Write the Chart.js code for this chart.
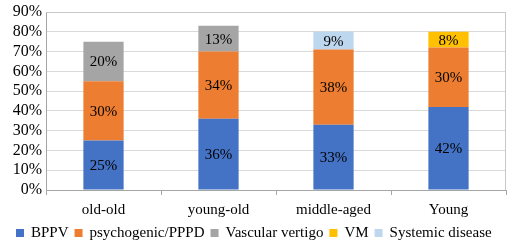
<!DOCTYPE html>
<html>
<head>
<meta charset="utf-8">
<script src="https://cdn.jsdelivr.net/npm/chart.js@4"></script>
<style>
  html, body { margin: 0; padding: 0; background: #fff; }
  #box { width: 510px; height: 245px; }
</style>
</head>
<body>
<div id="box"><canvas id="grafico"></canvas></div>
<script>
const categorias = ["old-old", "young-old", "middle-aged", "Young"];
const bppv = [25, 36, 33, 42];
const psicogenico = [30, 34, 38, 30];
const vascular = [20, 13, null, null];
const vm = [null, null, null, 8];
const sistemica = [null, null, 9, null];

const fonte = "'Liberation Serif', 'Times New Roman', serif";

// escreve os valores no meio de cada segmento
const rotulos = {
    id: "rotulos",
    afterDatasetsDraw(chart) {
        const ctx = chart.ctx;
        ctx.save();
        ctx.font = "15px " + fonte;
        ctx.fillStyle = "#000";
        ctx.textAlign = "center";
        ctx.textBaseline = "middle";
        chart.data.datasets.forEach((ds, i) => {
            chart.getDatasetMeta(i).data.forEach((bar, j) => {
                const v = ds.data[j];
                if (v == null) return;
                const meio = (bar.y + bar.base) / 2;
                ctx.fillText(v + "%", bar.x, meio + 1);
            });
        });
        ctx.restore();
    }
};

// moldura da área do gráfico + legenda desenhada à mão
const moldura = {
    id: "moldura",
    afterDraw(chart) {
        const { ctx, chartArea: a } = chart;
        ctx.save();
        ctx.strokeStyle = "#c8c8c8";
        ctx.lineWidth = 1;
        ctx.beginPath();
        ctx.moveTo(a.left, a.top + 0.5);
        ctx.lineTo(a.right - 0.5, a.top + 0.5);
        ctx.lineTo(a.right - 0.5, a.bottom);
        ctx.stroke();

        // legenda
        ctx.font = "15px " + fonte;
        ctx.textBaseline = "middle";
        ctx.textAlign = "left";
        const caixa = 8, gap1 = 7, gap2 = 6;
        const itens = chart.data.datasets.map(ds => ({ texto: ds.label, cor: ds.backgroundColor }));
        let total = 0;
        itens.forEach((it, k) => {
            it.w = ctx.measureText(it.texto).width;
            total += caixa + gap1 + it.w + (k < itens.length - 1 ? gap2 : 0);
        });
        let x = Math.round(254 - total / 2);
        const yc = 233;
        itens.forEach(it => {
            ctx.fillStyle = it.cor;
            ctx.fillRect(x, yc - 4, caixa, caixa);
            x += caixa + gap1;
            ctx.fillStyle = "#000";
            ctx.fillText(it.texto, x, yc);
            x += it.w + gap2;
        });
        ctx.restore();
    }
};

const base = { barPercentage: 0.7, categoryPercentage: 0.5, borderWidth: 0 };

new Chart(document.getElementById("grafico"), {
    type: "bar",
    data: {
        labels: categorias,
        datasets: [
            { label: "BPPV", data: bppv, backgroundColor: "#4472C4", ...base },
            { label: "psychogenic/PPPD", data: psicogenico, backgroundColor: "#ED7D31", ...base },
            { label: "Vascular vertigo", data: vascular, backgroundColor: "#A5A5A5", ...base },
            { label: "VM", data: vm, backgroundColor: "#FFC000", ...base },
            { label: "Systemic disease", data: sistemica, backgroundColor: "#BDD7EE", ...base }
        ]
    },
    options: {
        responsive: true,
        maintainAspectRatio: false,
        animation: false,
        layout: { padding: { top: 1, right: 4, left: 0, bottom: 20 } },
        scales: {
            x: {
                stacked: true,
                offset: true,
                grid: { offset: true, drawOnChartArea: false, drawTicks: true, tickLength: 5, color: "#a6a6a6" },
                border: { color: "#a6a6a6" },
                ticks: { color: "#000", font: { family: fonte, size: 15 }, padding: 6 }
            },
            y: {
                stacked: true,
                min: 0,
                max: 90,
                afterFit: s => { s.width = 46; },
                grid: { color: "#d9d9d9", drawTicks: false },
                border: { color: "#a6a6a6" },
                ticks: {
                    stepSize: 10,
                    autoSkip: false,
                    color: "#000",
                    padding: 4,
                    font: { family: fonte, size: 16, lineHeight: 1 },
                    callback: v => v + "%"
                }
            }
        },
        plugins: {
            legend: { display: false },
            tooltip: { enabled: false }
        }
    },
    plugins: [rotulos, moldura]
});
</script>
</body>
</html>
